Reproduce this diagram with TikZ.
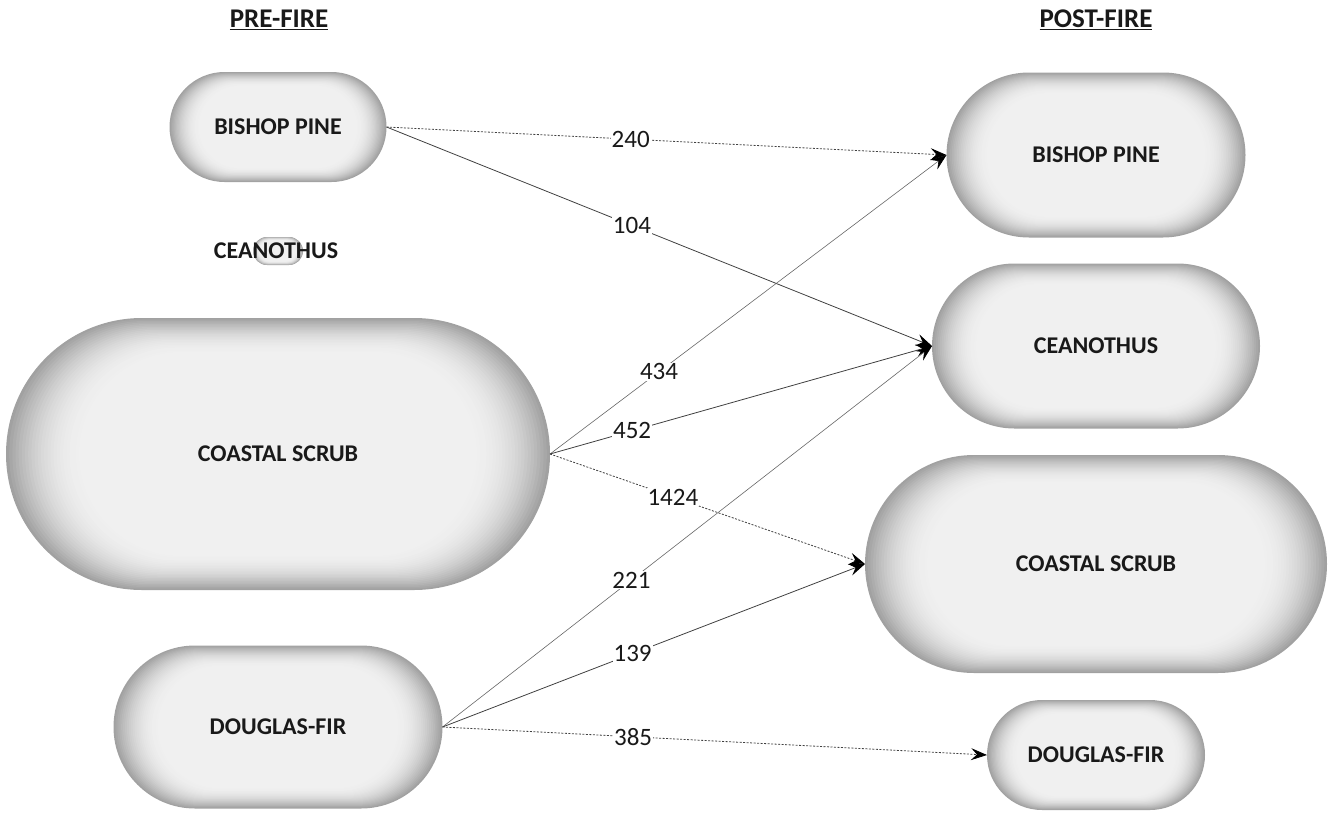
\documentclass[tikz,border=0pt]{standalone}
\usepackage{fontspec}
\setmainfont{Carlito}
\usetikzlibrary{shapes.misc,arrows.meta}
\newcommand{\capsule}[6]{%
  \foreach \i in {0,...,24}{%
    \pgfmathsetmacro{\capt}{\i/24}%
    \pgfmathsetmacro{\capv}{0.94-0.31*(1-\capt)^2}%
    \pgfmathsetmacro{\capw}{#4*(1-0.28*\capt)}%
    \pgfmathsetmacro{\caph}{#5*(1-0.26*\capt)}%
    \definecolor{capc}{gray}{\capv}%
    \node[layer, fill=capc, minimum width=\capw pt, minimum height=\caph pt] at (#2,#3) {};
  }%
  \node[layer, minimum width=#4pt, minimum height=#5pt] (#1) at (#2,#3) {};
  \node[nodetext] (#1-t) at (#2,#3) {#6};
}
\tikzset{
  layer/.style={rounded rectangle, inner sep=0pt, outer sep=0pt},
  nodetext/.style={font=\fontsize{24}{26}\selectfont\bfseries, text=black!90},
  head/.style={font=\fontsize{27}{30}\selectfont\bfseries, text=black!90},
  lbl/.style={font=\fontsize{25}{27}\selectfont, text=black!90, fill=white, inner sep=1pt},
  conn/.style={draw=black!75, line width=0.8pt, -{Stealth[length=16pt,width=12pt,inset=6pt,color=black]}},
  dotconn/.style={conn, dash pattern=on 2pt off 1.5pt}
}
\begin{document}
\begin{tikzpicture}[x=1pt,y=-1pt]
\useasboundingbox (0,0) rectangle (1338,814);
\node[head] (hpre) at (279,20) {\underline{PRE-FIRE}};
\node[head] (hpost) at (1096,20) {\underline{POST-FIRE}};

\capsule{prebp}{278}{127}{217}{110}{BISHOP PINE}
\capsule{precea}{278}{251}{50}{28}{}
\node[nodetext] (precea-label) at (276,251) {CEANOTHUS};
\capsule{precs}{278}{454}{544}{272}{COASTAL SCRUB}
\capsule{predf}{278}{727}{329}{163}{DOUGLAS-FIR}

\capsule{postbp}{1096}{155}{299}{165}{BISHOP PINE}
\capsule{postcea}{1096}{346}{328}{165}{CEANOTHUS}
\capsule{postcs}{1096}{564}{462}{218}{COASTAL SCRUB}
\capsule{postdf}{1096}{755}{218}{110}{DOUGLAS-FIR}

\draw[dotconn] (prebp.east) -- node[lbl,pos=0.436] (l240) {240} (postbp.west);
\draw[conn] (prebp.east) -- node[lbl,pos=0.45] (l104) {104} (postcea.west);
\draw[conn, draw=black!60, line width=0.6pt] (precs.east) -- node[lbl,pos=0.275] (l434) {434} (postbp.west);
\draw[conn] (precs.east) -- node[lbl,pos=0.215] (l452) {452} (postcea.west);
\draw[dotconn] (precs.east) -- node[lbl,pos=0.39] (l1424) {1424} (postcs.west);
\draw[conn, draw=black!60, line width=0.6pt] (predf.east) -- node[lbl,pos=0.386] (l221) {221} (postcea.west);
\draw[conn] (predf.east) -- node[lbl,pos=0.45] (l139) {139} (postcs.west);
\draw[dotconn] (predf.east) -- node[lbl,pos=0.35] (l385) {385} (postdf.west);
\end{tikzpicture}
\end{document}
